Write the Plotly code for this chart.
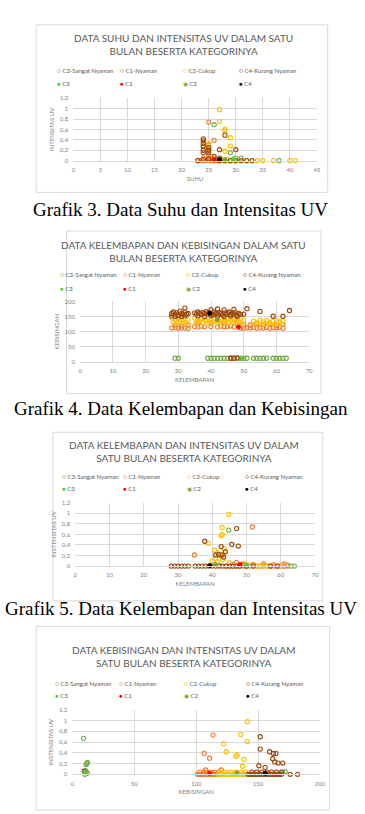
import plotly.graph_objects as go

W, H = 365, 814

# ---------------- DATA ----------------
series_names = ["C3-Sangat Nyaman", "C1-Nyaman", "C2-Cukup", "C4-Kurang Nyaman"]
centroid_names = ["C3", "C1", "C2", "C4"]

# Grafik 3: Suhu vs Intensitas UV
g3_suhu_c3 = [26, 29, 30, 31, 38, 28, 29, 30]
g3_uv_c3 = [0.69, 0.15, 0.05, 0.05, 0, 0, 0, 0]
g3_suhu_c1 = [23, 23.5, 24, 24.5, 25, 25.5, 26, 26.5, 27, 24, 25, 26, 25, 25, 26, 25]
g3_uv_c1 = [0, 0, 0, 0, 0, 0, 0, 0, 0, 0.05, 0.05, 0.04, 0.1, 0.74, 0.39, 0.3]
g3_suhu_c2 = [27, 27, 28, 28, 29, 29, 28, 24, 25, 25, 27, 28, 29, 30, 31, 32, 33, 34, 35, 37, 40, 41, 26, 27.5, 28.5]
g3_uv_c2 = [0.98, 0.75, 0.6, 0.57, 0.44, 0.28, 0.18, 0.26, 0.33, 0.22, 0, 0, 0, 0, 0, 0, 0, 0, 0, 0, 0, 0, 0.03, 0.03, 0.03]
g3_suhu_c4 = [24, 24, 24, 24, 24, 24, 25, 25, 25, 28, 27, 30, 28, 29, 30, 31, 32, 33, 23, 24, 25, 26, 27, 26, 27]
g3_uv_c4 = [0.42, 0.38, 0.33, 0.28, 0.2, 0.15, 0.25, 0.2, 0.15, 0.49, 0.21, 0.21, 0, 0, 0, 0, 0, 0, 0, 0.02, 0.03, 0.02, 0, 0.08, 0.05]
g3_cent_suhu = [29.5, 26, 28, 27]
g3_cent_uv = [0.03, 0.01, 0.02, 0.02]

# Grafik 4: Kelembapan vs Kebisingan
g4_kel_c3 = [29, 30, 39, 40, 41, 42, 43, 44, 45, 46, 47, 48, 49, 50, 51, 53, 54, 55, 56, 57, 59, 60, 61, 62, 63]
g4_keb_c3 = [12, 12, 12, 12, 12, 12, 12, 12, 12, 12, 12, 12, 12, 12, 12, 12, 12, 12, 12, 12, 12, 12, 12, 12, 12]
g4_kel_c1 = [28, 29, 30, 31, 32, 33, 29, 31, 33, 35, 36, 37, 38, 40, 42, 43, 44, 45, 46, 47,
             49, 50, 51, 52, 53, 54, 55, 56, 57, 58, 59, 60, 61, 62, 50, 52, 54, 56, 58, 60, 62,
             36, 40, 44, 48, 46, 47]
g4_keb_c1 = [112, 113, 111, 113, 112, 111, 122, 120, 122, 117, 115, 118, 116, 117, 115, 118, 116, 117, 119, 115,
             112, 111, 113, 112, 114, 111, 113, 112, 114, 111, 113, 112, 114, 111, 124, 122, 126, 123, 125, 122, 124,
             132, 130, 133, 129, 12, 12]
g4_kel_c2 = [28, 29, 30, 31, 32, 33, 28.5, 29.5, 30.5, 31.5, 32.5,
             35, 36, 37, 38, 39, 40, 41, 42, 43, 44, 45, 46, 47, 48, 49, 50,
             35.5, 37.5, 39.5, 41.5, 43.5, 45.5, 47.5, 49.5,
             36.5, 38.5, 40.5, 42.5, 44.5, 46.5, 48.5,
             53, 54, 55, 56, 57, 58, 59, 60, 61, 62, 53.5, 55.5, 57.5, 59.5, 61.5, 42]
g4_keb_c2 = [145, 140, 145, 138, 143, 140, 130, 128, 132, 127, 130,
             145, 140, 143, 138, 145, 140, 142, 138, 145, 140, 143, 138, 142, 140, 145, 138,
             128, 130, 127, 132, 128, 130, 127, 125,
             134, 136, 133, 135, 134, 136, 133,
             135, 130, 138, 132, 136, 130, 135, 138, 132, 136, 125, 122, 127, 124, 126, 135]
g4_kel_c4 = [28, 28.5, 29, 29.5, 30, 30.5, 31, 31.5, 32, 32.5, 33,
             35, 35.5, 36, 36.5, 37, 37.5, 38, 38.5, 39, 39.5, 40, 40.5, 41, 41.5, 42, 42.5, 43, 43.5,
             44, 44.5, 45, 45.5, 46, 46.5, 47, 47.5, 48, 48.5, 49, 50,
             28, 29, 30, 31, 32, 36, 38, 40, 42, 44, 46, 48,
             32, 40, 42, 44, 47, 51, 55, 59, 62, 64, 46, 47, 48]
g4_keb_c4 = [160, 165, 158, 162, 155, 168, 160, 157, 163, 158, 160,
             162, 158, 165, 160, 157, 163, 160, 166, 158, 162, 160, 157, 165, 160, 158, 163, 160, 155,
             162, 158, 160, 165, 157, 161, 158, 163, 155, 160, 157, 158,
             152, 150, 153, 150, 152, 152, 150, 153, 151, 150, 152, 150,
             178, 173, 175, 172, 174, 176, 167, 151, 151, 170, 12, 12, 13]
g4_cent_kel = [49.4, 48.4, 41.9, 39.6]
g4_cent_keb = [12, 115, 139, 161]

# Grafik 5: Kelembapan vs Intensitas UV
g5_kel_c3 = [44.8, 42, 49, 50, 57, 61, 62, 63, 64]
g5_uv_c3 = [0.68, 0.02, 0.02, 0, 0, 0, 0.02, 0, 0]
g5_kel_c1 = [51.7, 34.8, 47, 44, 45, 46, 47, 48, 49, 50, 51, 52, 53, 54, 55, 56, 57, 58, 59, 60, 61, 62,
             46, 49, 52, 55, 58, 61]
g5_uv_c1 = [0.74, 0.21, 0.07, 0, 0, 0, 0, 0, 0, 0, 0, 0, 0, 0, 0, 0, 0, 0, 0, 0, 0, 0,
            0.03, 0.04, 0.03, 0.04, 0.03, 0.04]
g5_kel_c2 = [44.8, 42.9, 42.9, 42.6, 38.8, 40.7, 41.5, 42.5, 43.5, 41, 43.8, 40, 41.5, 43, 45,
             47, 50, 53, 54, 55, 56, 57, 58, 59, 60, 61]
g5_uv_c2 = [0.98, 0.73, 0.6, 0.57, 0.43, 0.3, 0.25, 0.2, 0.33, 0.15, 0.28, 0.1, 0.08, 0.12, 0.06,
            0.02, 0.03, 0, 0, 0.02, 0, 0, 0.02, 0, 0, 0.02]
g5_kel_c4 = [47.1, 37.8, 45.7, 47.6, 42.6, 41, 41.9, 42.9, 43.3, 43.8,
             28, 29, 30, 31, 32, 33, 35, 36, 37, 38, 39, 40, 41, 42, 43, 44, 45, 46, 47, 48, 50, 52, 57, 59]
g5_uv_c4 = [0.71, 0.47, 0.41, 0.38, 0.37, 0.21, 0.22, 0.21, 0.17, 0.27,
            0, 0, 0, 0, 0, 0, 0, 0, 0, 0, 0, 0, 0, 0, 0, 0, 0, 0, 0, 0, 0, 0, 0, 0]
g5_cent_kel = [50, 48.1, 41, 39.3]
g5_cent_uv = [0.02, 0.03, 0.03, 0.01]

# Grafik 6: Kebisingan vs Intensitas UV
g6_keb_c3 = [9, 11.6, 12.2, 11, 10, 11, 12, 10.5, 170, 172]
g6_uv_c3 = [0.67, 0.2, 0.22, 0.18, 0, 0.05, 0.02, 0.07, 0.04, 0.05]
g6_keb_c1 = [113.6, 106.5, 110.9, 107.7, 120.3,
             101, 102.5, 104, 105.5, 107, 108.5, 110, 111.5, 113, 114.5, 116, 117.5, 119,
             103, 106, 109, 112, 115, 118]
g6_uv_c1 = [0.73, 0.39, 0.3, 0.08, 0.08,
            0, 0, 0, 0, 0, 0, 0, 0, 0, 0, 0, 0, 0,
            0.04, 0.04, 0.04, 0.04, 0.04, 0.04]
g6_keb_c2 = [136, 141.3, 122.3, 141.3, 124.4, 132, 133, 138.6, 137.5,
             118, 119.5, 121, 122.5, 124, 125.5, 127, 128.5, 130, 131.5, 133, 134.5, 136, 137.5, 139, 140.5, 142,
             120, 124, 128, 132, 136, 140]
g6_uv_c2 = [0.74, 0.98, 0.57, 0.61, 0.42, 0.33, 0.36, 0.28, 0.15,
            0, 0, 0, 0, 0, 0, 0, 0, 0, 0, 0, 0, 0, 0, 0, 0, 0,
            0.04, 0.04, 0.04, 0.04, 0.04, 0.04]
g6_keb_c4 = [151.8, 151.8, 159.3, 162.4, 164.5, 161.9, 163.5, 166.2, 170, 150.7, 155.7, 9.5,
             142, 143.5, 145, 146.5, 148, 149.5, 151, 152.5, 154, 155.5, 157, 158.5, 160, 161.5, 163,
             164.5, 166, 167.5, 169, 176, 182,
             145, 149, 153, 157, 161, 165, 169]
g6_uv_c4 = [0.70, 0.47, 0.42, 0.39, 0.39, 0.29, 0.23, 0.21, 0.21, 0.16, 0.13, 0.06,
            0, 0, 0, 0, 0, 0, 0, 0, 0, 0, 0, 0, 0, 0, 0,
            0, 0, 0, 0, 0, 0,
            0.04, 0.04, 0.04, 0.04, 0.04, 0.04, 0.04]
g6_cent_keb = [10, 111, 133, 156]
g6_cent_uv = [0.03, 0.02, 0.03, 0.02]

# Texts
chart_titles = [
    "DATA SUHU DAN INTENSITAS UV DALAM SATU<br>BULAN BESERTA KATEGORINYA",
    "DATA KELEMBAPAN DAN KEBISINGAN DALAM SATU<br>BULAN BESERTA KATEGORINYA",
    "DATA KELEMBAPAN DAN INTENSITAS UV DALAM<br>SATU BULAN BESERTA KATEGORINYA",
    "DATA KEBISINGAN DAN INTENSITAS UV DALAM<br>SATU BULAN BESERTA KATEGORINYA",
]
x_titles = ["SUHU", "KELEMBAPAN", "KELEMBAPAN", "KEBISINGAN"]
y_titles = ["INTENSITAS UV", "KEBISINGAN", "INSTENSITAS UV", "INSTENSITAS UV"]
captions = [
    "Grafik 3. Data Suhu dan Intensitas UV",
    "Grafik 4. Data Kelembapan dan Kebisingan",
    "Grafik 5. Data Kelembapan dan Intensitas UV",
]

# ---------------- STYLE / LAYOUT ----------------
hollow_colors = ["#70AD47", "#ED7D31", "#FFC000", "#9E480E"]
cent_fill = ["#55C83A", "#FF0000", "#8E9A1E", "#000000"]
cent_line = ["#55C83A", "#FF0000", "#70AD47", "#000000"]
cent_glyph = ["●", "●", "◉", "●"]

FONT = "Lato"
GRID = "#D9D9D9"
TICK = "#808080"
LEGTXT = "#595959"


def px(x):
    return x / W


def py(y):
    return 1 - y / H


charts = [
    dict(data=[(g3_suhu_c3, g3_uv_c3), (g3_suhu_c1, g3_uv_c1), (g3_suhu_c2, g3_uv_c2), (g3_suhu_c4, g3_uv_c4)],
         cent=(g3_cent_suhu, g3_cent_uv), xr=[0, 45], dx=5, yr=[0, 1.2], dy=0.2,
         plot=(73, 322, 95, 158), box=(35, 333, 21, 190), title_y=(34, 48), leg=(67, 80),
         cols=[57, 122, 186, 243]),
    dict(data=[(g4_kel_c3, g4_keb_c3), (g4_kel_c1, g4_keb_c1), (g4_kel_c2, g4_keb_c2), (g4_kel_c4, g4_keb_c4)],
         cent=(g4_cent_kel, g4_cent_keb), xr=[0, 70], dx=10, yr=[0, 200], dy=50,
         plot=(80, 314, 300, 361), box=(66, 326, 229, 393), title_y=(243, 257), leg=(273, 287),
         cols=[60, 125, 189, 247]),
    dict(data=[(g5_kel_c3, g5_uv_c3), (g5_kel_c1, g5_uv_c1), (g5_kel_c2, g5_uv_c2), (g5_kel_c4, g5_uv_c4)],
         cent=(g5_cent_kel, g5_cent_uv), xr=[0, 70], dx=10, yr=[0, 1.2], dy=0.2,
         plot=(75, 320, 503, 567), box=(52, 328, 432, 602), title_y=(445, 458), leg=(477, 489),
         cols=[62, 125, 190, 249]),
    dict(data=[(g6_keb_c3, g6_uv_c3), (g6_keb_c1, g6_uv_c1), (g6_keb_c2, g6_uv_c2), (g6_keb_c4, g6_uv_c4)],
         cent=(g6_cent_keb, g6_cent_uv), xr=[0, 200], dx=50, yr=[0, 1.2], dy=0.2,
         plot=(72, 325, 712, 777), box=(35, 335, 628, 813), title_y=(651, 665), leg=(685, 698),
         cols=[55, 121, 187, 250]),
]

fig = go.Figure()
layout = dict(
    width=W, height=H, margin=dict(l=0, r=0, t=0, b=0),
    paper_bgcolor="white", plot_bgcolor="white", showlegend=False,
    separators=", ", font=dict(family=FONT, color=TICK, size=6),
    annotations=[], shapes=[],
)

for i, ch in enumerate(charts):
    n = i + 1
    xa = "x" if n == 1 else f"x{n}"
    ya = "y" if n == 1 else f"y{n}"
    for k, (xs, ys) in enumerate(ch["data"]):
        fig.add_trace(go.Scatter(
            x=xs, y=ys, mode="markers", name=series_names[k], xaxis=xa, yaxis=ya,
            cliponaxis=False,
            marker=dict(symbol="circle-open", size=4.2, color=hollow_colors[k], line=dict(width=1.1)),
        ))
    cx, cy = ch["cent"]
    for k in range(4):
        fig.add_trace(go.Scatter(
            x=[cx[k]], y=[cy[k]], mode="markers", name=centroid_names[k], xaxis=xa, yaxis=ya,
            cliponaxis=False,
            marker=dict(symbol="circle", size=4, color=cent_fill[k], line=dict(width=1, color=cent_line[k])),
        ))
    x0, x1, y0, y1 = ch["plot"]
    axkey_x = "xaxis" if n == 1 else f"xaxis{n}"
    axkey_y = "yaxis" if n == 1 else f"yaxis{n}"
    layout[axkey_x] = dict(
        domain=[px(x0), px(x1)], range=ch["xr"], dtick=ch["dx"], tick0=0, anchor=ya,
        showgrid=True, gridcolor=GRID, gridwidth=1, zeroline=False,
        showline=True, linecolor=GRID, linewidth=1,
        ticks="outside", ticklen=3, tickcolor="rgba(0,0,0,0)",
        tickfont=dict(family=FONT, size=6, color=TICK),
        title=dict(text=x_titles[i], font=dict(family=FONT, size=6, color=TICK), standoff=4),
        fixedrange=True,
    )
    layout[axkey_y] = dict(
        domain=[py(y1), py(y0)], range=ch["yr"], dtick=ch["dy"], tick0=0, anchor=xa,
        showgrid=True, gridcolor=GRID, gridwidth=1, zeroline=False, showline=False,
        ticks="outside", ticklen=3, tickcolor="rgba(0,0,0,0)",
        tickfont=dict(family=FONT, size=6, color=TICK),
        title=dict(text=y_titles[i], font=dict(family=FONT, size=6, color=TICK), standoff=4),
        fixedrange=True,
    )
    bx0, bx1, by0, by1 = ch["box"]
    layout["shapes"].append(dict(type="rect", xref="paper", yref="paper",
                                 x0=px(bx0), x1=px(bx1), y0=py(by1), y1=py(by0),
                                 line=dict(color=GRID, width=1), fillcolor="rgba(0,0,0,0)", layer="below"))
    layout["annotations"].append(dict(
        text=chart_titles[i], xref="paper", yref="paper", x=px(186),
        y=py((ch["title_y"][0] + ch["title_y"][1]) / 2),
        xanchor="center", yanchor="middle", showarrow=False, align="center",
        font=dict(family=FONT, size=10, color="#595959")))
    # legend (two rows, four columns) built as text entries
    for k in range(4):
        sx = ch["cols"][k]
        layout["annotations"].append(dict(
            text=f'<span style="color:{hollow_colors[k]}">○</span> {series_names[k]}',
            xref="paper", yref="paper", x=px(sx - 3), y=py(ch["leg"][0]),
            xanchor="left", yanchor="middle", showarrow=False,
            font=dict(family=FONT, size=6, color=LEGTXT)))
        layout["annotations"].append(dict(
            text=f'<span style="color:{cent_fill[k]}">{cent_glyph[k]}</span> {centroid_names[k]}',
            xref="paper", yref="paper", x=px(sx - 3), y=py(ch["leg"][1]),
            xanchor="left", yanchor="middle", showarrow=False,
            font=dict(family=FONT, size=6, color=LEGTXT)))

for i, cap in enumerate(captions):
    cy = [207, 408, 610][i]
    layout["annotations"].append(dict(
        text=cap, xref="paper", yref="paper", x=px(183), y=py(cy), xanchor="center", yanchor="middle",
        showarrow=False, font=dict(family="Liberation Serif", size=19, color="#000000")))

fig.update_layout(**layout)
fig.write_html("out.html")
